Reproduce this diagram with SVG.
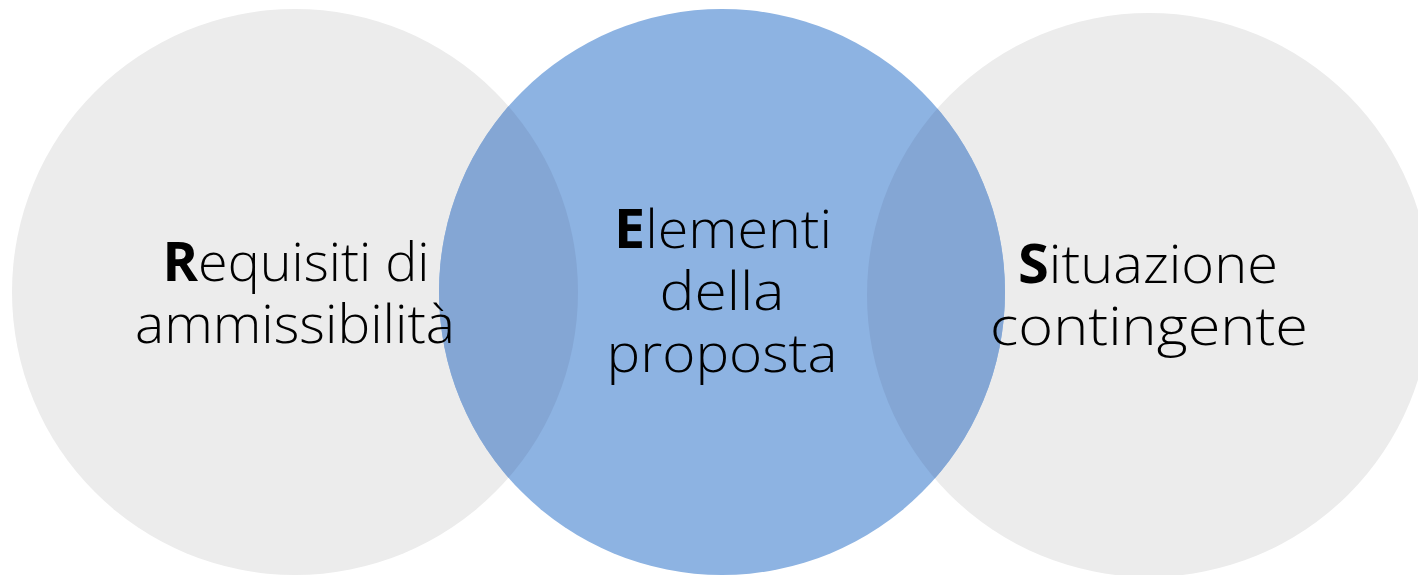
<svg xmlns="http://www.w3.org/2000/svg" width="1418" height="575" viewBox="0 0 1418 575">
  <style>
    .gray { fill: #ececec; }
    .blue { fill: #8db3e2; }
    .overlap { fill: #84a6d4; }
    .lbl { font-family: "Open Sans", "DejaVu Sans", sans-serif; font-weight: 300; font-size: 53px; fill: #000000; text-anchor: middle; }
    .b { font-weight: bold; }
  </style>
  <defs>
    <clipPath id="clipL"><circle cx="295" cy="292" r="283"/></clipPath>
    <clipPath id="clipR"><circle cx="1149" cy="295" r="282"/></clipPath>
  </defs>
  <rect width="1418" height="575" fill="#ffffff"/>
  <g id="left">
    <circle class="gray" cx="295" cy="292" r="283"/>
  </g>
  <g id="right">
    <circle class="gray" cx="1149" cy="295" r="282"/>
  </g>
  <g id="middle">
    <circle class="blue" cx="722" cy="292" r="283"/>
    <circle class="overlap" cx="722" cy="292" r="283" clip-path="url(#clipL)"/>
    <circle class="overlap" cx="722" cy="292" r="283" clip-path="url(#clipR)"/>
  </g>
  <g id="connectors"></g>
  <g id="labels">
    <text class="lbl" x="296" y="281" textLength="267" lengthAdjust="spacingAndGlyphs"><tspan class="b">R</tspan>equisiti di</text>
    <text class="lbl" x="295" y="343" textLength="320" lengthAdjust="spacingAndGlyphs">ammissibilità</text>
    <text class="lbl" x="723" y="248" textLength="218" lengthAdjust="spacingAndGlyphs"><tspan class="b">E</tspan>lementi</text>
    <text class="lbl" x="722" y="310" textLength="125" lengthAdjust="spacingAndGlyphs">della</text>
    <text class="lbl" x="722" y="372" textLength="231" lengthAdjust="spacingAndGlyphs">proposta</text>
    <text class="lbl" x="1148" y="283" textLength="260" lengthAdjust="spacingAndGlyphs"><tspan class="b">S</tspan>ituazione</text>
    <text class="lbl" x="1149" y="345" textLength="318" lengthAdjust="spacingAndGlyphs">contingente</text>
  </g>
</svg>
